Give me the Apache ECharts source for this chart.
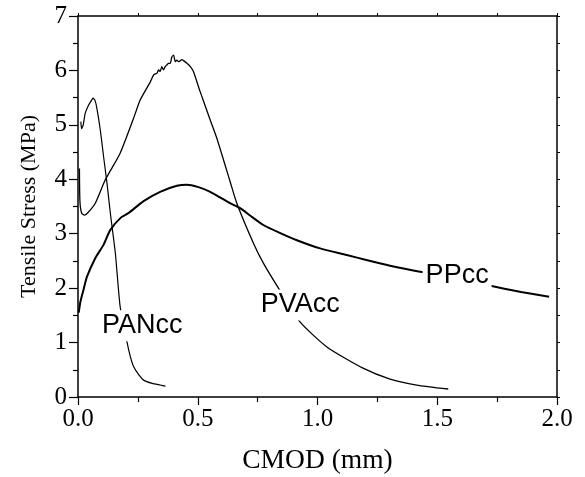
<!DOCTYPE html>
<html>
<head>
<meta charset="utf-8">
<script src="https://cdn.jsdelivr.net/npm/echarts@6/dist/echarts.min.js"></script>
<style>
  html, body { margin: 0; padding: 0; background: #fff; }
  #chart { width: 585px; height: 477px; }
</style>
</head>
<body>
<div id="chart"></div>
<script>
// CMOD (mm) readings for each fibre mix
var panX = [0.012, 0.015, 0.022, 0.03, 0.044, 0.055, 0.063, 0.071, 0.079, 0.093, 0.107, 0.121, 0.135, 0.156, 0.176, 0.204, 0.218, 0.232, 0.255, 0.274, 0.31, 0.343, 0.365];
var panY = [5.06, 4.93, 5.0, 5.21, 5.36, 5.44, 5.49, 5.45, 5.30, 4.91, 4.41, 3.93, 3.38, 2.64, 1.66, 1.02, 0.75, 0.56, 0.40, 0.31, 0.25, 0.22, 0.20];

var pvaX = [0.006, 0.008, 0.015, 0.026, 0.04, 0.072, 0.114, 0.176, 0.232, 0.26, 0.302, 0.316, 0.33, 0.336, 0.343, 0.35, 0.357, 0.364, 0.371, 0.378, 0.385, 0.392, 0.399, 0.406, 0.413, 0.42, 0.434, 0.441, 0.455, 0.469, 0.482, 0.51, 0.552, 0.58, 0.635, 0.663, 0.733, 0.774, 0.837, 0.927, 1.039, 1.19, 1.303, 1.414, 1.546];
var pvaY = [4.2, 3.6, 3.38, 3.34, 3.38, 3.56, 3.99, 4.48, 5.12, 5.46, 5.79, 5.92, 5.95, 6.01, 5.98, 6.07, 6.01, 6.07, 6.10, 6.13, 6.13, 6.25, 6.28, 6.16, 6.19, 6.16, 6.20, 6.18, 6.13, 6.07, 5.98, 5.61, 5.09, 4.75, 3.96, 3.56, 2.82, 2.46, 2.0, 1.38, 0.92, 0.53, 0.33, 0.22, 0.147];

var ppX = [0.003, 0.01, 0.023, 0.0375, 0.072, 0.107, 0.135, 0.18, 0.211, 0.274, 0.343, 0.413, 0.455, 0.5, 0.552, 0.6, 0.635, 0.677, 0.72, 0.774, 0.84, 0.914, 1.011, 1.122, 1.2, 1.303, 1.428, 1.55, 1.65, 1.727, 1.85, 1.967];
var ppY = [1.55, 1.75, 1.97, 2.21, 2.55, 2.8, 3.07, 3.3, 3.38, 3.6, 3.77, 3.88, 3.9, 3.86, 3.77, 3.65, 3.56, 3.47, 3.33, 3.16, 3.02, 2.88, 2.73, 2.61, 2.52, 2.41, 2.30, 2.22, 2.13, 2.04, 1.93, 1.84];

// curve labels placed in data units
var labelNames = ['PANcc', 'PVAcc', 'PPcc'];
var labelX = [0.268, 0.928, 1.583];
var labelY = [1.31, 1.69, 2.24];

var xTicks = [0, 0.5, 1.0, 1.5, 2.0];
var yTicks = [0, 1, 2, 3, 4, 5, 6, 7];

function zip(xs, ys) {
  return xs.map(function (x, i) { return [x, ys[i]]; });
}

var serif = 'Liberation Serif, Times New Roman, serif';
var sans = 'Liberation Sans, Arial, sans-serif';

var myChart = echarts.init(document.getElementById('chart'));

var axisCommon = {
  type: 'value',
  splitLine: { show: false },
  axisLine: { show: true, onZero: false, lineStyle: { color: '#000', width: 1.5 } }
};

var option = {
  animation: false,
  backgroundColor: '#fff',
  grid: { left: 78, right: 28, top: 16, bottom: 80, containLabel: false, outerBoundsMode: 'none' },
  xAxis: [
    Object.assign({}, axisCommon, {
      position: 'bottom',
      min: xTicks[0], max: xTicks[xTicks.length - 1], interval: 0.5,
      axisTick: { show: true, inside: false, length: 8, lineStyle: { color: '#000', width: 1.2 } },
      minorTick: { show: true, splitNumber: 2, length: 5, lineStyle: { color: '#000', width: 1.2 } },
      axisLabel: { color: '#000', fontFamily: serif, fontSize: 25, margin: 10,
        formatter: function (v) { return v.toFixed(1); } },
      name: 'CMOD (mm)', nameLocation: 'middle', nameGap: 50,
      nameTextStyle: { color: '#000', fontFamily: serif, fontSize: 27.5 }
    }),
    Object.assign({}, axisCommon, {
      position: 'top',
      min: xTicks[0], max: xTicks[xTicks.length - 1], interval: 0.5,
      axisTick: { show: true, inside: false, length: 3, lineStyle: { color: '#000' } },
      minorTick: { show: true, splitNumber: 2, length: 3, lineStyle: { color: '#000' } },
      axisLabel: { show: false }
    })
  ],
  yAxis: [
    Object.assign({}, axisCommon, {
      position: 'left',
      min: yTicks[0], max: yTicks[yTicks.length - 1], interval: 1,
      axisTick: { show: true, inside: false, length: 9, lineStyle: { color: '#000', width: 1.2 } },
      minorTick: { show: true, splitNumber: 2, length: 5, lineStyle: { color: '#000', width: 1.2 } },
      axisLabel: { color: '#000', fontFamily: serif, fontSize: 25, margin: 11 },
      name: 'Tensile Stress (MPa)', nameLocation: 'middle', nameGap: 38,
      nameTextStyle: { color: '#000', fontFamily: serif, fontSize: 22 }
    }),
    Object.assign({}, axisCommon, {
      position: 'right',
      min: yTicks[0], max: yTicks[yTicks.length - 1], interval: 1,
      axisTick: { show: true, inside: false, length: 3, lineStyle: { color: '#000' } },
      minorTick: { show: true, splitNumber: 2, length: 3, lineStyle: { color: '#000' } },
      axisLabel: { show: false }
    })
  ],
  series: [
    {
      name: 'PANcc', type: 'line', xAxisIndex: 0, yAxisIndex: 0,
      data: zip(panX, panY), showSymbol: false, symbol: 'none',
      smooth: 0.2,
      lineStyle: { color: '#000', width: 1.2 }, z: 2
    },
    {
      name: 'PVAcc', type: 'line', xAxisIndex: 0, yAxisIndex: 0,
      data: zip(pvaX, pvaY), showSymbol: false, symbol: 'none',
      smooth: 0.2,
      lineStyle: { color: '#000', width: 1.3 }, z: 2
    },
    {
      name: 'PPcc', type: 'line', xAxisIndex: 0, yAxisIndex: 0,
      data: zip(ppX, ppY), showSymbol: false, symbol: 'none',
      smooth: 0.2,
      lineStyle: { color: '#000', width: 2 }, z: 2
    },
    {
      type: 'scatter', xAxisIndex: 0, yAxisIndex: 0,
      data: labelNames.map(function (n, i) { return [labelX[i], labelY[i], n]; }),
      symbolSize: 0, itemStyle: { color: '#fff' },
      silent: true, z: 5,
      label: {
        show: true, position: 'inside',
        formatter: function (p) { return p.data[2]; },
        color: '#000', fontFamily: sans, fontSize: 27,
        textBorderWidth: 0, opacity: 1,
        backgroundColor: '#fff', padding: [2, 3]
      }
    }
  ]
};

myChart.setOption(option);
</script>
</body>
</html>
